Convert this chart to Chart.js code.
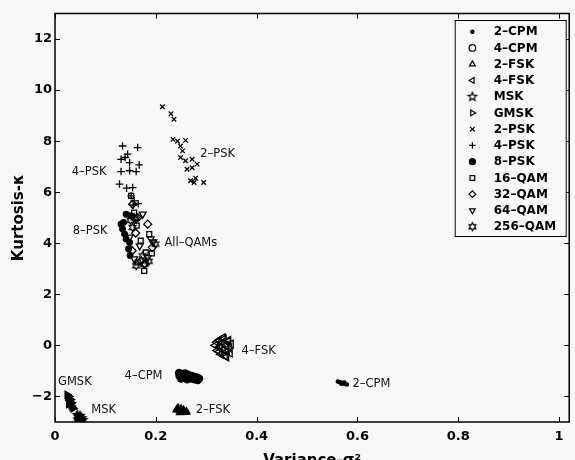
<!DOCTYPE html>
<html lang="en">
<head>
    <meta charset="UTF-8">
    <title>Kurtosis vs Variance</title>
    <style>
        body {
            margin: 0;
            padding: 0;
            background: #f8f8f8;
        }

        #wrap {
            width: 575px;
            height: 460px;
        }
    </style>
</head>
<body>
<div id="wrap"><canvas id="scatterChart" width="575" height="460"></canvas></div>
<script src="https://cdn.jsdelivr.net/npm/chart.js"></script>
<script>
    // legend order
    const seriesNames = ['2–CPM', '4–CPM', '2–FSK', '4–FSK', 'MSK', 'GMSK', '2–PSK', '4–PSK', '8–PSK', '16–QAM', '32–QAM', '64–QAM', '256–QAM'];

    // axis ticks
    const xTickValues = [0, 0.2, 0.4, 0.6, 0.8, 1];
    const yTickValues = [-2, 0, 2, 4, 6, 8, 10, 12];

    // [variance, kurtosis]
    const cpm2 = [[0.561, -1.41], [0.564, -1.43], [0.567, -1.45], [0.570, -1.47], [0.573, -1.49], [0.576, -1.51], [0.579, -1.53], [0.568, -1.50], [0.574, -1.45]];
    const cpm4 = [[0.246, -1.08], [0.247, -1.20], [0.252, -1.12], [0.253, -1.25], [0.258, -1.10], [0.259, -1.22], [0.263, -1.15], [0.265, -1.28], [0.269, -1.18], [0.271, -1.30], [0.275, -1.22], [0.277, -1.33], [0.281, -1.25], [0.283, -1.36], [0.286, -1.30], [0.262, -1.33], [0.250, -1.30]];
    const fsk2 = [[0.241, -2.52], [0.244, -2.45], [0.247, -2.55], [0.250, -2.48], [0.252, -2.60], [0.255, -2.53], [0.258, -2.62], [0.261, -2.60], [0.248, -2.63]];
    const fsk4 = [[0.318, 0.00], [0.321, 0.12], [0.322, -0.20], [0.325, 0.20], [0.327, -0.05], [0.329, -0.35], [0.331, 0.10], [0.333, -0.18], [0.335, 0.25], [0.337, -0.40], [0.339, 0.00], [0.341, -0.25], [0.343, 0.15], [0.345, -0.10], [0.347, -0.30], [0.349, 0.05], [0.326, -0.25], [0.333, 0.30], [0.340, -0.45], [0.344, 0.20]];
    const msk = [[0.044, -2.72], [0.047, -2.80], [0.050, -2.76], [0.053, -2.85], [0.046, -2.90], [0.049, -2.95], [0.052, -2.98], [0.055, -2.92], [0.048, -3.00]];
    const gmsk = [[0.024, -1.93], [0.025, -2.02], [0.027, -2.10], [0.028, -2.00], [0.029, -2.18], [0.030, -2.27], [0.031, -2.12], [0.032, -2.35], [0.034, -2.42], [0.036, -2.47], [0.027, -2.30], [0.033, -2.25]];
    const psk2 = [[0.213, 9.35], [0.230, 9.07], [0.236, 8.86], [0.234, 8.07], [0.243, 8.00], [0.259, 8.03], [0.249, 7.81], [0.253, 7.62], [0.249, 7.36], [0.259, 7.23], [0.272, 7.29], [0.282, 7.10], [0.262, 6.90], [0.272, 6.96], [0.269, 6.45], [0.279, 6.55], [0.295, 6.38], [0.276, 6.38]];
    const psk4 = [[0.134, 7.81], [0.164, 7.75], [0.144, 7.49], [0.131, 7.29], [0.139, 7.36], [0.148, 7.16], [0.167, 7.07], [0.131, 6.81], [0.148, 6.84], [0.161, 6.81], [0.128, 6.32], [0.142, 6.16], [0.154, 6.18], [0.151, 5.86], [0.157, 5.66], [0.165, 5.55], [0.155, 5.50]];
    const psk8 = [[0.141, 5.14], [0.151, 5.08], [0.136, 4.82], [0.131, 4.75], [0.134, 4.56], [0.138, 4.36], [0.141, 4.17], [0.148, 4.03], [0.146, 3.78], [0.149, 3.52]];
    const qam16 = [[0.151, 5.86], [0.157, 5.20], [0.162, 4.69], [0.187, 4.36], [0.180, 3.64], [0.164, 3.25], [0.177, 2.92], [0.170, 4.10], [0.192, 3.60]];
    const qam32 = [[0.154, 5.53], [0.164, 5.00], [0.184, 4.75], [0.193, 3.84], [0.171, 3.31], [0.153, 3.71], [0.160, 4.40], [0.178, 3.20]];
    const qam64 = [[0.161, 4.95], [0.174, 5.14], [0.190, 4.17], [0.184, 3.44], [0.157, 3.39], [0.148, 4.24], [0.168, 3.90], [0.195, 4.05]];
    const qam256 = [[0.154, 4.62], [0.199, 3.97], [0.174, 3.51], [0.177, 3.18], [0.161, 3.12], [0.158, 5.00], [0.150, 4.90], [0.186, 3.30]];

    // text labels placed in the plot: [text, variance, kurtosis]
    const plotNotes = [
        ['2–PSK', 0.288, 7.5],
        ['4–PSK', 0.033, 6.8],
        ['8–PSK', 0.035, 4.47],
        ['All–QAMs', 0.217, 4.02],
        ['4–FSK', 0.37, -0.22],
        ['4–CPM', 0.138, -1.2],
        ['2–FSK', 0.279, -2.55],
        ['GMSK', 0.006, -1.43],
        ['MSK', 0.072, -2.55],
        ['2–CPM', 0.59, -1.5]
    ];

    // pentagram / hexagram markers
    function starCanvas(points, outer, inner, filled) {
        const size = Math.ceil(outer * 2 + 3);
        const c = document.createElement('canvas');
        c.width = size;
        c.height = size;
        const g = c.getContext('2d');
        g.beginPath();
        for (let i = 0; i < points * 2; i++) {
            const r = i % 2 === 0 ? outer : inner;
            const a = -Math.PI / 2 + i * Math.PI / points;
            const px = size / 2 + r * Math.cos(a);
            const py = size / 2 + r * Math.sin(a);
            if (i === 0) g.moveTo(px, py); else g.lineTo(px, py);
        }
        g.closePath();
        g.lineWidth = 1.2;
        g.strokeStyle = '#000';
        if (filled) {
            g.fillStyle = '#000';
            g.fill();
        }
        g.stroke();
        return c;
    }

    const pentaFilled = starCanvas(5, 4.5, 2, true);
    const pentaOpen = starCanvas(5, 4.5, 2, false);
    const hexaOpen = starCanvas(6, 4, 2.2, false);

    const toXY = pts => pts.map(p => ({x: p[0], y: p[1]}));
    const none = 'rgba(0,0,0,0)';

    // style per series, same order as seriesNames
    const markers = [
        {data: cpm2, pointStyle: 'circle', radius: 1.6, fill: '#000', legendFill: true, legendRadius: 1.6},
        {data: cpm4, pointStyle: 'circle', radius: 3.5, fill: '#000', legendFill: false},
        {data: fsk2, pointStyle: 'triangle', radius: 4, fill: '#000', legendFill: false},
        {data: fsk4, pointStyle: 'triangle', rotation: -90, radius: 4.5, fill: none, legendFill: false},
        {data: msk, pointStyle: pentaFilled, legendStyle: pentaOpen, radius: 4, fill: '#000'},
        {data: gmsk, pointStyle: 'triangle', rotation: 90, radius: 4, fill: '#000', legendFill: false},
        {data: psk2, pointStyle: 'crossRot', radius: 3.2, fill: none},
        {data: psk4, pointStyle: 'cross', radius: 3.8, fill: none},
        {data: psk8, pointStyle: 'circle', radius: 2.8, fill: '#000', legendFill: true, legendRadius: 3},
        {data: qam16, pointStyle: 'rect', radius: 3.5, fill: none, legendFill: false},
        {data: qam32, pointStyle: 'rectRot', radius: 4, fill: none, legendFill: false},
        {data: qam64, pointStyle: 'triangle', rotation: 180, radius: 4, fill: none, legendFill: false},
        {data: qam256, pointStyle: hexaOpen, legendStyle: hexaOpen, radius: 4, fill: none}
    ];

    const datasets = markers.map((m, i) => ({
        label: seriesNames[i],
        data: toXY(m.data),
        pointStyle: m.pointStyle,
        rotation: m.rotation || 0,
        pointRadius: m.radius,
        backgroundColor: m.fill,
        borderColor: '#000',
        borderWidth: 1.3,
        showLine: false
    }));

    const fmtTick = v => String(v).replace('-', '−');

    // inward ticks + box, text notes, boxed legend
    const decorPlugin = {
        id: 'decor',
        afterDatasetsDraw(chart) {
            const {ctx, chartArea: a, scales: {x, y}} = chart;
            ctx.save();
            ctx.strokeStyle = '#000';
            ctx.lineWidth = 1;
            ctx.beginPath();
            xTickValues.forEach(v => {
                const px = Math.round(x.getPixelForValue(v)) + 0.5;
                ctx.moveTo(px, a.bottom); ctx.lineTo(px, a.bottom - 5);
                ctx.moveTo(px, a.top); ctx.lineTo(px, a.top + 5);
            });
            yTickValues.forEach(v => {
                const py = Math.round(y.getPixelForValue(v)) + 0.5;
                ctx.moveTo(a.left, py); ctx.lineTo(a.left + 5, py);
                ctx.moveTo(a.right, py); ctx.lineTo(a.right - 5, py);
            });
            ctx.stroke();
            ctx.lineWidth = 1.5;
            ctx.strokeRect(a.left, a.top, a.right - a.left, a.bottom - a.top);

            // notes
            ctx.fillStyle = '#111';
            ctx.font = '11.5px "DejaVu Sans"';
            ctx.textAlign = 'left';
            ctx.textBaseline = 'middle';
            plotNotes.forEach(n => {
                ctx.fillText(n[0], x.getPixelForValue(n[1]), y.getPixelForValue(n[2]));
            });

            // legend
            const boxW = 111, boxH = 216;
            const bx = a.right - 3.5 - boxW;
            const by = a.top + 6.5;
            ctx.fillStyle = '#f8f8f8';
            ctx.fillRect(bx, by, boxW, boxH);
            ctx.lineWidth = 1;
            ctx.strokeRect(bx + 0.5, by + 0.5, boxW, boxH);
            ctx.font = 'bold 12px "DejaVu Sans"';
            markers.forEach((m, i) => {
                const ly = by + 11.7 + i * 16.25;
                const lx = bx + 17.7;
                ctx.fillStyle = m.legendFill ? '#000' : none;
                ctx.strokeStyle = '#000';
                ctx.lineWidth = 1.2;
                Chart.helpers.drawPoint(ctx, {
                    pointStyle: m.legendStyle || m.pointStyle,
                    rotation: m.rotation || 0,
                    radius: m.legendRadius || 3.3,
                    borderWidth: 1.2
                }, lx, ly);
                ctx.fillStyle = '#000';
                ctx.fillText(seriesNames[i], bx + 39, ly + 0.5);
            });
            ctx.restore();
        }
    };

    const tickFont = {family: 'DejaVu Sans', weight: 'bold', size: 13};
    const titleFont = {family: 'DejaVu Sans', weight: 'bold', size: 15};

    new Chart(document.getElementById('scatterChart').getContext('2d'), {
        type: 'scatter',
        data: {datasets: datasets},
        options: {
            responsive: false,
            animation: false,
            layout: {padding: {top: 13.5, right: 1.5, bottom: 0, left: 0}},
            plugins: {
                legend: {display: false},
                tooltip: {enabled: false}
            },
            scales: {
                x: {
                    type: 'linear',
                    min: 0,
                    max: 1.02,
                    afterBuildTicks: s => { s.ticks = xTickValues.map(v => ({value: v})); },
                    afterFit: s => { s.height = 38; },
                    grid: {display: false, drawTicks: false},
                    border: {display: false},
                    ticks: {padding: 7, color: '#000', font: tickFont, maxRotation: 0, autoSkip: false, callback: fmtTick},
                    title: {display: true, text: 'Variance-σ²', color: '#000', font: titleFont, padding: {top: 0, bottom: -10}}
                },
                y: {
                    type: 'linear',
                    min: -3,
                    max: 13,
                    afterBuildTicks: s => { s.ticks = yTickValues.map(v => ({value: v})); },
                    afterFit: s => { s.width = 55; },
                    grid: {display: false, drawTicks: false},
                    border: {display: false},
                    ticks: {padding: 3, color: '#000', font: tickFont, autoSkip: false, callback: fmtTick},
                    title: {display: true, text: 'Kurtosis-κ', color: '#000', font: titleFont, padding: {top: 10, bottom: 0}}
                }
            }
        },
        plugins: [decorPlugin]
    });
</script>
</body>
</html>
